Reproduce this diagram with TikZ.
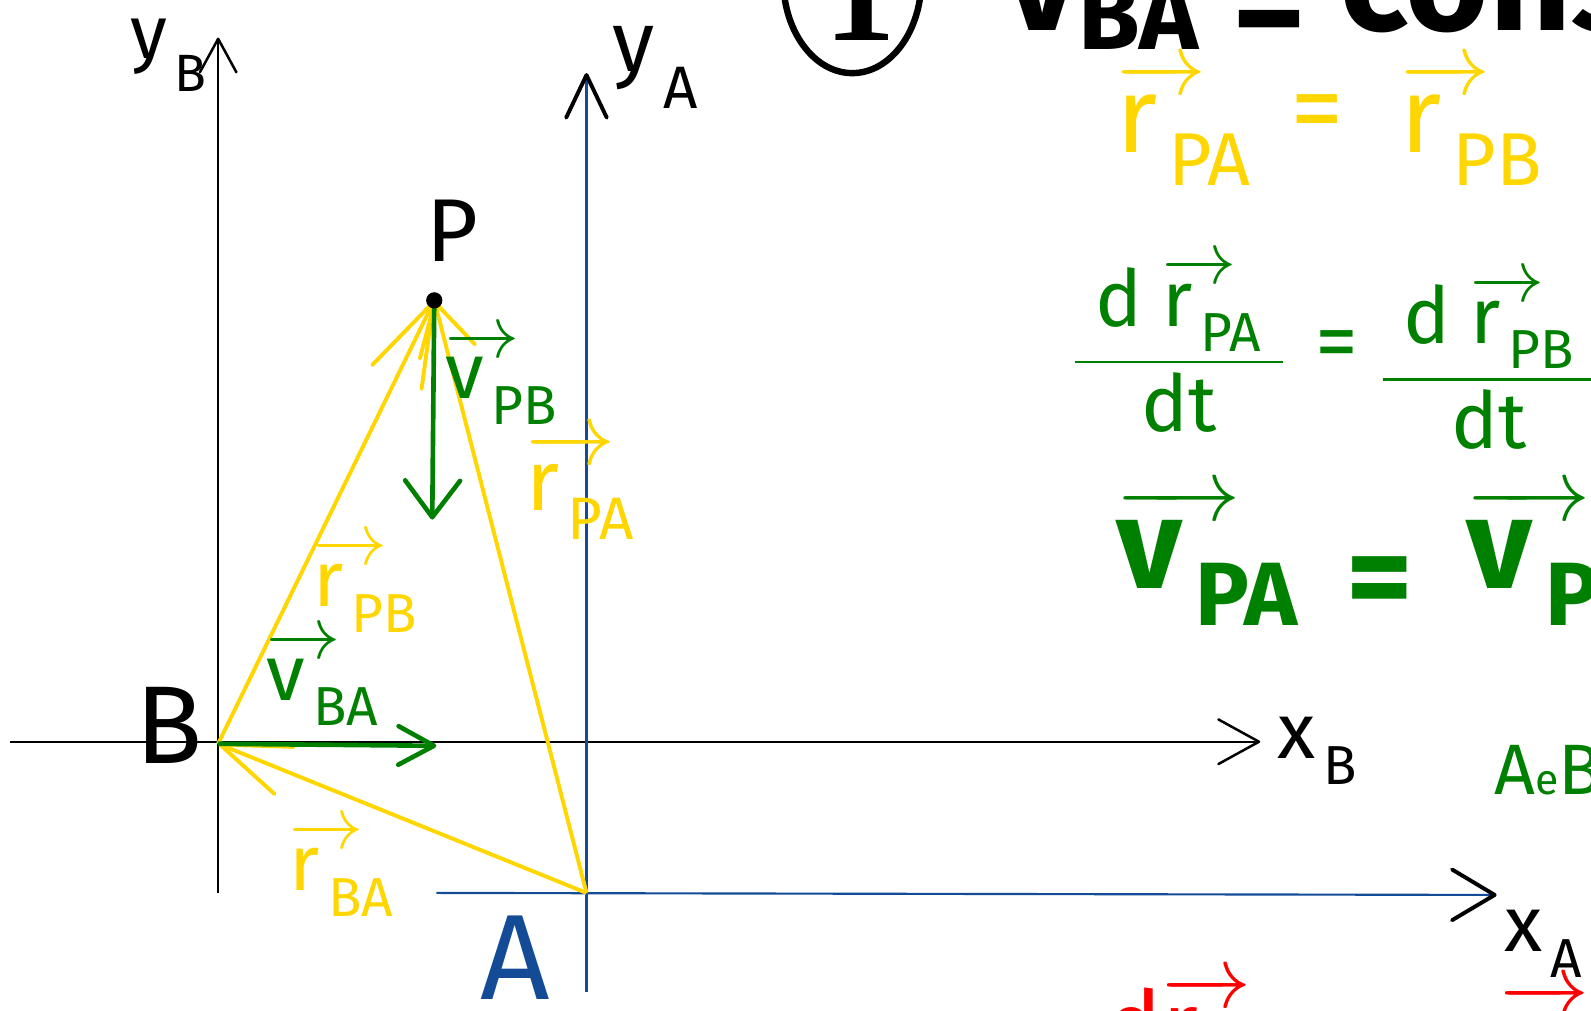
\documentclass[tikz,border=0pt]{standalone}
\usepackage{mathtools}
\usepackage{fontspec}
\setmainfont{Fira Sans}
\newfontfamily\numfont{Liberation Serif}
\usetikzlibrary{arrows.meta,positioning}

\definecolor{penyellow}{RGB}{255,214,0}
\definecolor{pengreen}{RGB}{0,128,0}
\definecolor{penblue}{RGB}{20,75,150}
\definecolor{penred}{RGB}{255,0,0}

\newcommand{\hv}[2]{\ensuremath{\mathrlap{\overrightarrow{\phantom{\text{#1}}\kern0.45em}}\text{#1}_{\kern0.1em\text{\raisebox{-0.5ex}{#2}}}}}
\newcommand{\ax}[2]{\ensuremath{\text{#1}_{\kern0.1em\text{\raisebox{-0.5ex}{#2}}}}}

\begin{document}
\begin{tikzpicture}[
    x=0.01cm, y=-0.01cm,
    lab/.style={inner sep=0pt, font=\fontsize{#1}{#1}\selectfont},
    boldlab/.style={inner sep=0pt, font=\fontsize{#1}{#1}\selectfont\bfseries},
    axline/.style n args={3}{line width=0.6pt, -{Straight Barb[round, length=#1, width=#2, line width=#3, color=black]}},
    yvec/.style 2 args={draw=penyellow, line width=1.1pt, -{Straight Barb[round, length=#1, width=#2]}},
    gvec/.style 2 args={draw=pengreen, line width=1.3pt, -{Straight Barb[round, length=#1, width=#2]}},
    dot/.style={circle, fill=black, inner sep=0pt, minimum size=1.6mm}
  ]
    \clip (0,0) rectangle (1568,996);

    % points
    \coordinate (B) at (215,733);
    \coordinate (A) at (578,880);
    \coordinate (P) at (428,296);

    % frames B and A
    \coordinate (xB0) at (10,731);
    \coordinate (xB1) at (1242,731);
    \coordinate (yB0) at (215,880);
    \coordinate (yB1) at (215,37);
    \coordinate (xA0) at (430,880);
    \coordinate (xA1) at (1475,882);
    \coordinate (yA0) at (578,978);
    \coordinate (yA1) at (578,72);

    \draw[axline={4mm}{4.4mm}{0.7pt}] (xB0) -- (xB1);
    \draw[axline={3.3mm}{3.6mm}{0.7pt}] (yB0) -- (yB1);
    \draw[axline={4.2mm}{5mm}{1.1pt}, draw=penblue] (xA0) -- (xA1);
    \draw[axline={4.2mm}{4mm}{1.1pt}, draw=penblue] (yA0) -- (yA1);

    % position vectors
    \draw[yvec={8.2mm}{5.4mm}] (B) -- (P);
    \draw[yvec={5mm}{5.6mm}] (A) -- (P);
    \draw[yvec={6.8mm}{5mm}] (A) -- (B);

    % velocities
    \coordinate (vBA) at (430,735);
    \coordinate (vPB) at (426,512);
    \draw[gvec={3.5mm}{3.8mm}] (B) -- (vBA);
    \draw[gvec={3.6mm}{5.4mm}] (P) -- (vPB);

    \node[dot] (Pdot) at (P) {};

    % labels
    \node[lab=25, anchor=base] (Plab) at (446,258) {P};
    \node[lab=31, anchor=base] (Blab) at (167,752) {B};
    \node[lab=34, anchor=base, text=penblue] (Alab) at (508,985) {A};
    \node[lab=21, anchor=base west] (yBlab) at (128,58) {\ax{y}{B}};
    \node[lab=24, anchor=base west] (yAlab) at (603,70) {\ax{y}{A}};
    \node[lab=22, anchor=base west] (xBlab) at (1258,748) {\ax{x}{B}};
    \node[lab=22, anchor=base west] (xAlab) at (1482,938) {\ax{x}{A}};

    \node[lab=22, anchor=base west, text=penyellow] (rPBlab) at (308,598) {\hv{r}{PB}};
    \node[lab=24, anchor=base west, text=penyellow] (rPAlab) at (518,503) {\hv{r}{PA}};
    \node[lab=22, anchor=base west, text=penyellow] (rBAlab) at (285,878) {\hv{r}{BA}};
    \node[lab=22, anchor=base west, text=pengreen] (vBAlab) at (262,690) {\hv{v}{BA}};
    \node[lab=22, anchor=base west, text=pengreen] (vPBlab) at (438,393) {\hv{v}{PB}};

    % notes on the right
    \draw[line width=1.8pt] (840,-20) ellipse [x radius=6.8mm, y radius=9.2mm];
    \node[inner sep=0pt, anchor=base, font=\numfont\bfseries\fontsize{40}{40}\selectfont] (one) at (848,40) {1};
    \node[boldlab=40, anchor=base west] (title) at (990,30) {\rlap{$\overrightarrow{\phantom{\text{v}}\kern0.45em}$}v\raisebox{-0.13em}{\fontsize{28}{28}\selectfont BA} \raisebox{-0.15em}{=} constante};

    \node[lab=30, anchor=base west, text=penyellow] (rPAeq) at (1100,150) {\hv{r}{PA}};
    \node[lab=30, text=penyellow] (eq0) at (1298,118) {=};
    \node[lab=30, anchor=base west, text=penyellow] (rPBeq) at (1380,150) {\hv{r}{PB}};

    \node[lab=22, anchor=base, text=pengreen] (frac1) at (1162,375) {$\dfrac{\;\text{d}\;\hv{r}{PA}\;}{\text{dt}}$};
    \node[lab=24, text=pengreen] (eq1) at (1318,345) {=};
    \node[lab=22, anchor=base, text=pengreen] (frac2) at (1468,392) {$\dfrac{\;\text{d}\;\hv{r}{PB}\;}{\text{dt}}$};

    \node[boldlab=36, anchor=base west, text=pengreen] (vPA) at (1100,580) {\hv{v}{PA}};
    \node[boldlab=36, text=pengreen] (eq2) at (1360,580) {=};
    \node[boldlab=36, anchor=base west, text=pengreen] (vPB2) at (1445,580) {\hv{v}{PB}};

    \node[lab=20, anchor=base west, text=pengreen] (AeB) at (1472,783) {A{\fontsize{12}{12}\selectfont e}B};

    \node[lab=26, anchor=base west, text=penred] (dr) at (1090,1042) {d\hv{r}{}};
    \node[lab=26, anchor=base west, text=penred] (rr) at (1478,1050) {\hv{r}{}};
  \end{tikzpicture}
\end{document}
